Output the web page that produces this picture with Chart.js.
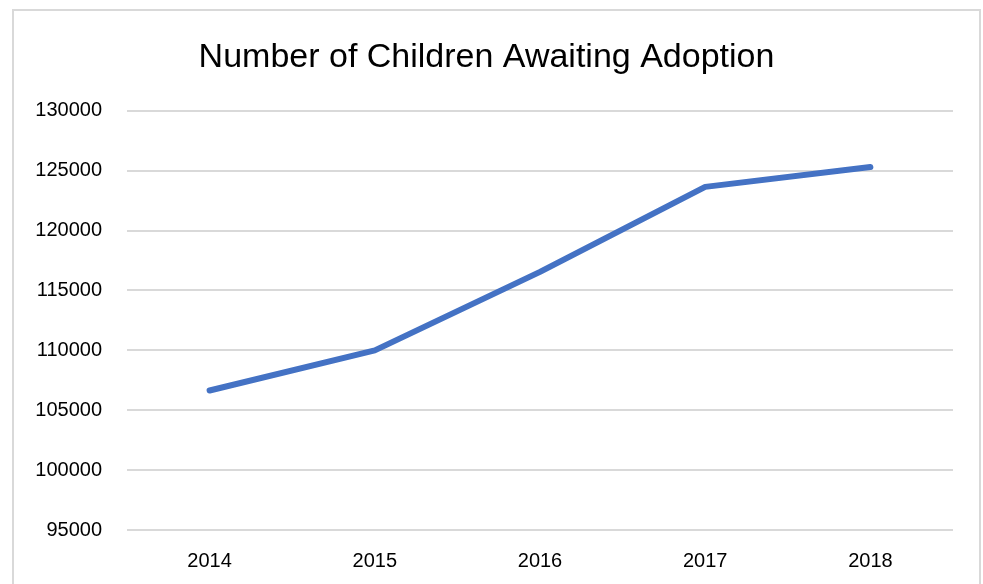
<!DOCTYPE html>
<html>
<head>
<meta charset="utf-8">
<script src="https://cdn.jsdelivr.net/npm/chart.js@4.4.1/dist/chart.umd.min.js"></script>
<style>
    html, body { margin: 0; padding: 0; background: #ffffff; }
    body { width: 983px; height: 584px; position: relative; overflow: hidden; }
    #frame {
        position: absolute; left: 12px; top: 9px;
        width: 969px; height: 600px;
        border: 2px solid #d9d9d9; box-sizing: border-box;
    }
    #wrap { position: absolute; left: 0; top: 0; width: 983px; height: 584px; }
</style>
</head>
<body>
<div id="frame"></div>
<div id="wrap"><canvas id="lineChart"></canvas></div>
<script>
// Chart data
const years = ['2014', '2015', '2016', '2017', '2018'];
const waitingChildren = [106650, 110000, 116550, 123650, 125300];
const yMin = 95000;
const yMax = 130000;
const yStep = 5000;

const FONT = "'Liberation Sans', Arial, sans-serif";
const gridColor = '#d9d9d9';

const ctx = document.getElementById('lineChart').getContext('2d');
new Chart(ctx, {
    type: 'line',
    data: {
        labels: years,
        datasets: [{
            label: 'Number of Children Awaiting Adoption',
            data: waitingChildren,
            borderColor: '#4472c4',
            borderWidth: 6,
            borderCapStyle: 'round',
            borderJoinStyle: 'round',
            pointRadius: 0,
            fill: false,
            tension: 0
        }]
    },
    options: {
        responsive: true,
        maintainAspectRatio: false,
        animation: false,
        layout: {
            padding: { left: 20, right: 30, top: 37, bottom: 0 }
        },
        plugins: {
            legend: { display: false },
            tooltip: { enabled: false },
            title: {
                display: true,
                text: 'Number of Children Awaiting Adoption',
                color: '#000000',
                font: { family: FONT, size: 34, weight: 'normal' },
                padding: { top: 0, bottom: 33 }
            }
        },
        scales: {
            x: {
                offset: true,
                grid: { display: false, drawTicks: false },
                border: { display: false },
                ticks: {
                    color: '#000000',
                    font: { family: FONT, size: 20 },
                    padding: 19,
                    maxRotation: 0
                },
                afterFit: (scale) => { scale.height = 54; }
            },
            y: {
                min: yMin,
                max: yMax,
                grid: { color: gridColor, lineWidth: 2, drawTicks: false },
                border: { display: false },
                ticks: {
                    stepSize: yStep,
                    color: '#000000',
                    font: { family: FONT, size: 20 },
                    padding: 25,
                    callback: (v) => String(v)
                },
                afterFit: (scale) => { scale.width = 107; }
            }
        }
    }
});
</script>
</body>
</html>
